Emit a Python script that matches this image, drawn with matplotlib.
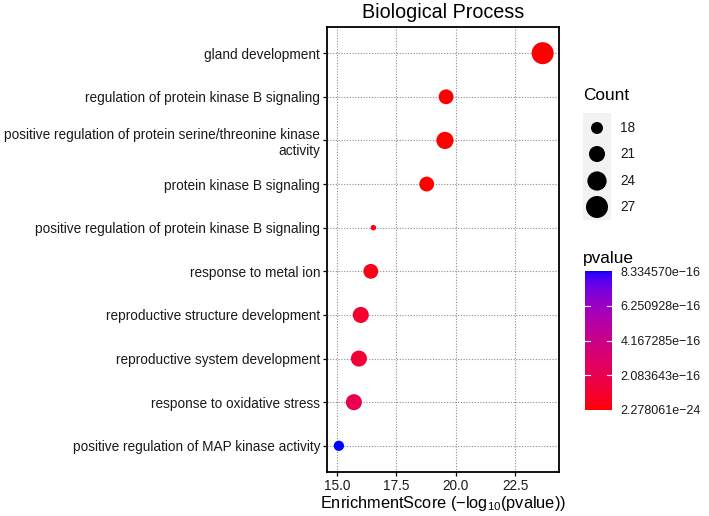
import numpy as np
import matplotlib
matplotlib.use("Agg")
import matplotlib.pyplot as plt
from matplotlib.colors import ListedColormap, Normalize

plt.rcParams.update({"font.family": ["Liberation Sans", "DejaVu Sans"],
                     "mathtext.fontset": "custom",
                     "mathtext.rm": "Liberation Sans",
                     "mathtext.it": "Liberation Sans",
                     "axes.unicode_minus": True})

# ── Data ──────────────────────────────────────────────────────────────────
terms = ["gland development",
         "regulation of protein kinase B signaling",
         "positive regulation of protein serine/threonine kinase\nactivity",
         "protein kinase B signaling",
         "positive regulation of protein kinase B signaling",
         "response to metal ion",
         "reproductive structure development",
         "reproductive system development",
         "response to oxidative stress",
         "positive regulation of MAP kinase activity"]
pvalues = [2.278061e-24, 2.6e-20, 2.9e-20, 1.7e-19, 2.95e-17,
           3.8e-17, 1.0e-16, 1.2e-16, 1.95e-16, 8.334570e-16]
counts = [27, 20, 22, 20, 15, 20, 21, 21, 21, 17]

size_breaks = [18, 21, 24, 27]
p_ticks = [2.278061e-24, 2.083643e-16, 4.167285e-16, 6.250928e-16, 8.334570e-16]
p_ticklabels = ["2.278061e\u221224", "2.083643e\u221216", "4.167285e\u221216",
                "6.250928e\u221216", "8.334570e\u221216"]
x_ticks = [15.0, 17.5, 20.0, 22.5]

enrich = -np.log10(pvalues)

TXT = 9.8        # tick / legend label size
TXT_COL = "#1a1a1a"


# ── red -> blue gradient interpolated in Lab (like ggplot) ────────────────
M_RGB2XYZ = np.array([[0.4124, 0.3576, 0.1805],
                      [0.2126, 0.7152, 0.0722],
                      [0.0193, 0.1192, 0.9505]])
WHITE = np.array([0.95047, 1.0, 1.08883])


def _srgb_to_lab(rgb):
    c = np.asarray(rgb, float)
    lin = np.where(c <= 0.04045, c / 12.92, ((c + 0.055) / 1.055) ** 2.4)
    xyz = M_RGB2XYZ @ lin / WHITE
    f = np.where(xyz > 0.008856, np.cbrt(xyz), 7.787 * xyz + 16 / 116)
    return np.array([116 * f[1] - 16, 500 * (f[0] - f[1]), 200 * (f[1] - f[2])])


def _lab_to_srgb(lab):
    L, a, b = lab
    fy = (L + 16) / 116
    f = np.array([fy + a / 500, fy, fy - b / 200])
    xyz = np.where(f ** 3 > 0.008856, f ** 3, (f - 16 / 116) / 7.787) * WHITE
    lin = np.clip(np.linalg.inv(M_RGB2XYZ) @ xyz, 0, 1)
    c = np.where(lin <= 0.0031308, 12.92 * lin, 1.055 * lin ** (1 / 2.4) - 0.055)
    return np.clip(c, 0, 1)


lab_lo, lab_hi = _srgb_to_lab([1, 0, 0]), _srgb_to_lab([0, 0, 1])
cmap = ListedColormap([_lab_to_srgb(lab_lo + t * (lab_hi - lab_lo))
                       for t in np.linspace(0, 1, 256)])
norm = Normalize(vmin=min(pvalues), vmax=max(pvalues))


def size_of(c):
    # marker area (pt^2) linear in Count
    return 74.6 + 19.6 * (np.asarray(c, float) - 18)


# ── Figure ────────────────────────────────────────────────────────────────
W, H = 709, 516
fig = plt.figure(figsize=(W / 100, H / 100), dpi=100)


def box(x0, y0, x1, y1):
    return [x0 / W, 1 - y1 / H, (x1 - x0) / W, (y1 - y0) / H]


ax = fig.add_axes(box(327, 27, 559, 472))
ypos = np.arange(len(terms))[::-1] + 1
ax.scatter(enrich, ypos, s=size_of(counts), c=pvalues, cmap=cmap, norm=norm,
           edgecolors="none", zorder=3)
ax.set_xlim(14.58, 24.33)
ax.set_ylim(0.4, len(terms) + 0.6)
ax.set_yticks(ypos)
ax.set_yticklabels(terms, fontsize=TXT, color=TXT_COL)
ax.set_xticks(x_ticks)
ax.set_xticklabels([f"{v:.1f}" for v in x_ticks], fontsize=TXT, color=TXT_COL)
ax.tick_params(length=3, width=0.9, pad=2)
ax.grid(True, linestyle=(0, (1, 1.5)), color="#8c8c8c", linewidth=0.8, zorder=0)
ax.set_axisbelow(True)
for sp in ax.spines.values():
    sp.set_linewidth(1.3)
    sp.set_color("black")
fig.text(443 / W, 1 - 12 / H, "Biological Process", fontsize=14.2,
         ha="center", va="center")
ax.set_xlabel("EnrichmentScore (\u2212log$_{10}$(pvalue))", fontsize=11.8,
              labelpad=1)

# ── Count legend ──────────────────────────────────────────────────────────
fig.text(583 / W, 1 - 96 / H, "Count", fontsize=12.4, va="center", ha="left")
lax = fig.add_axes(box(583, 113, 611, 220))
lax.set_facecolor("#f2f2f2")
lax.set_xlim(0, 1)
lax.set_ylim(220, 113)
key_y = [128, 154, 181, 207]
lax.scatter([0.5] * len(size_breaks), key_y, s=size_of(size_breaks),
            color="black", edgecolors="none")
for yk, lab in zip(key_y, size_breaks):
    fig.text(620 / W, 1 - yk / H, str(lab), fontsize=TXT, va="center",
             ha="left", color=TXT_COL)
lax.set_xticks([])
lax.set_yticks([])
for sp in lax.spines.values():
    sp.set_visible(False)

# ── pvalue colourbar ──────────────────────────────────────────────────────
fig.text(583 / W, 1 - 259 / H, "pvalue", fontsize=12.4, va="center", ha="left")
cax = fig.add_axes(box(585, 271, 612, 410))
cb = fig.colorbar(plt.cm.ScalarMappable(norm=norm, cmap=cmap), cax=cax)
cb.outline.set_visible(False)
cb.set_ticks(p_ticks)
cb.set_ticklabels(p_ticklabels)
cax.tick_params(length=0, labelsize=9.0, pad=6, labelcolor=TXT_COL)
for t in p_ticks[1:-1]:
    cax.plot([0, 0.2], [t, t], color="white", lw=0.8)
    cax.plot([0.8, 1], [t, t], color="white", lw=0.8)

fig.savefig("out.png", dpi=100)
